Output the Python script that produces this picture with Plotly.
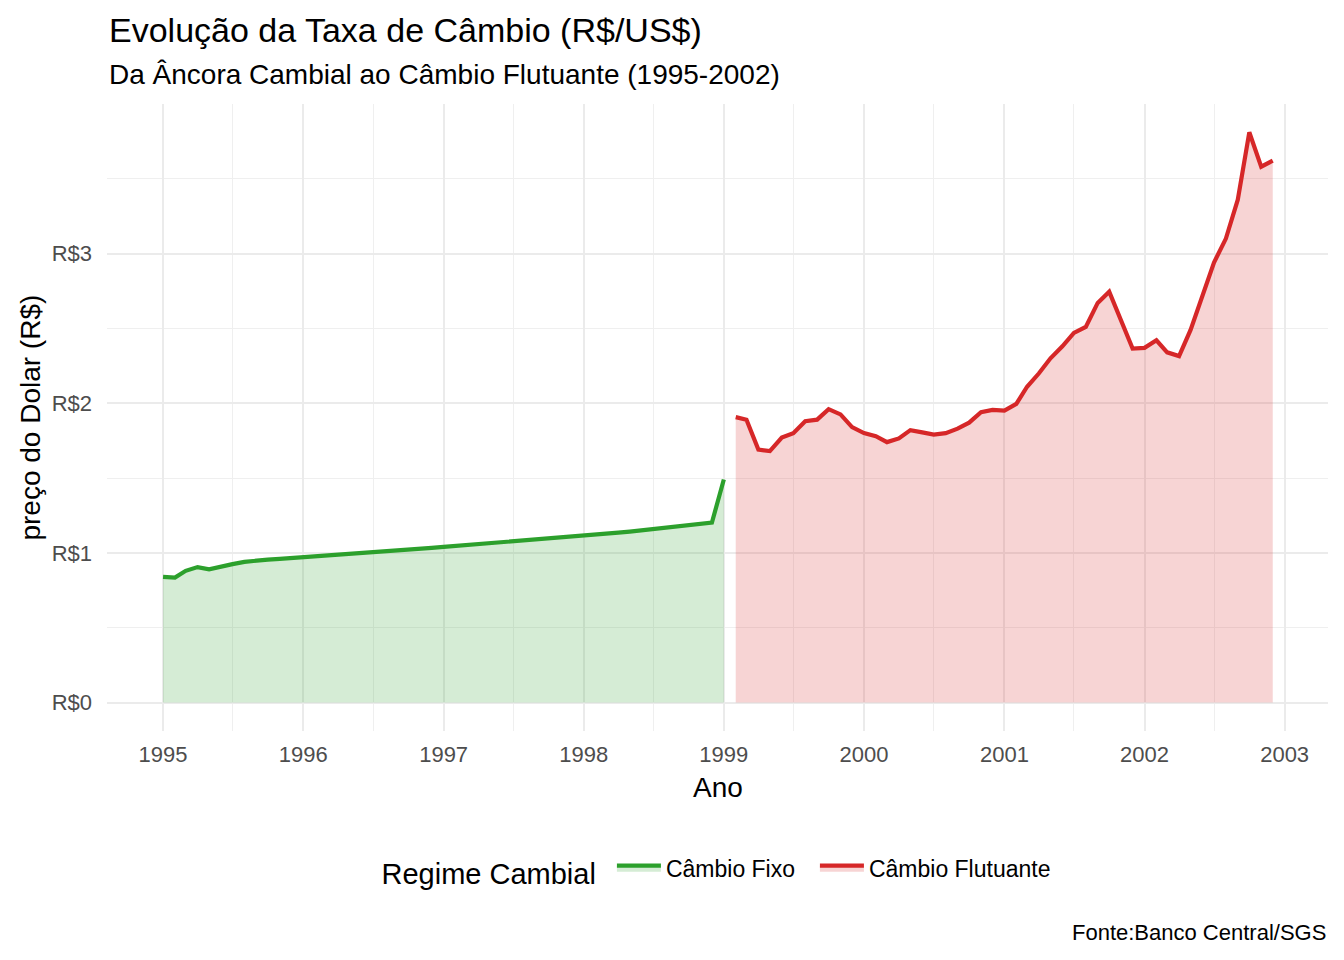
import pandas as pd
import plotly.graph_objects as go

# ---- data ----
fixo_datas = pd.date_range("1995-01-01", "1999-01-01", freq="MS")
fixo_valores = [
    0.840, 0.835, 0.880, 0.905, 0.890, 0.910, 0.925, 0.940, 0.950, 0.955, 0.960, 0.965,  # 1995
    0.972, 0.978, 0.984, 0.988, 0.992, 0.998, 1.004, 1.010, 1.016, 1.022, 1.027, 1.033,  # 1996
    1.040, 1.046, 1.052, 1.058, 1.064, 1.070, 1.076, 1.082, 1.088, 1.094, 1.100, 1.106,  # 1997
    1.114, 1.121, 1.128, 1.135, 1.142, 1.150, 1.158, 1.166, 1.174, 1.182, 1.190, 1.203,  # 1998
    1.490,  # 1999-01
]

flut_datas = pd.date_range("1999-02-01", "2002-12-01", freq="MS")
flut_valores = [
    1.907, 1.890, 1.690, 1.680, 1.770, 1.800, 1.880, 1.890, 1.960, 1.925, 1.840,  # 1999
    1.800, 1.780, 1.740, 1.765, 1.820, 1.805, 1.790, 1.800, 1.830, 1.870, 1.940, 1.955,  # 2000
    1.950, 1.995, 2.110, 2.200, 2.300, 2.380, 2.470, 2.510, 2.670, 2.745, 2.555, 2.365,  # 2001
    2.370, 2.420, 2.340, 2.315, 2.490, 2.710, 2.940, 3.100, 3.360, 3.810, 3.580, 3.620,  # 2002
]

y_ticks = [0, 1, 2, 3]
y_tick_labels = ["R$0", "R$1", "R$2", "R$3"]

titulo = "Evolução da Taxa de Câmbio (R$/US$)"
subtitulo = "Da Âncora Cambial ao Câmbio Flutuante (1995-2002)"
fonte = "Fonte:Banco Central/SGS"

VERDE = "#2CA02C"
VERMELHO = "#D62728"

fig = go.Figure()
fig.add_trace(go.Scatter(
    x=fixo_datas, y=fixo_valores, name="Câmbio Fixo", mode="lines",
    line=dict(color=VERDE, width=4.2), fill="tozeroy",
    fillcolor="rgba(44,160,44,0.2)", legendwidth=144,
))
fig.add_trace(go.Scatter(
    x=flut_datas, y=flut_valores, name="Câmbio Flutuante", mode="lines",
    line=dict(color=VERMELHO, width=4.2), fill="tozeroy",
    fillcolor="rgba(214,39,40,0.2)",
))

FONT = "Liberation Sans, Arial, sans-serif"
grid_major = "#EBEBEB"
grid_minor = "#EFEFEF"

fig.update_layout(
    width=1336, height=952,
    margin=dict(l=99, r=16, t=96, b=229),
    plot_bgcolor="white", paper_bgcolor="white",
    font=dict(family=FONT, color="black"),
    showlegend=True,
    legend=dict(
        orientation="h", x=0.5, xanchor="center", y=-0.222, yanchor="middle",
        title=dict(text="Regime Cambial ", font=dict(size=29, color="black"), side="left"),
        font=dict(size=23, color="black"),
        itemwidth=44,
    ),
    xaxis=dict(
        type="date",
        range=["1994-08-08", "2003-04-24"],
        dtick="M12", tick0="1995-01-01", tickformat="%Y",
        showgrid=True, gridcolor=grid_major, gridwidth=2,
        minor=dict(dtick="M6", tick0="1995-07-01", showgrid=True, gridcolor=grid_minor, gridwidth=1),
        zeroline=False, showline=False, ticks="",
        tickfont=dict(size=22, color="#4D4D4D"),
        ticklabelstandoff=8,
    ),
    yaxis=dict(
        range=[-0.19, 3.999],
        tickvals=y_ticks, ticktext=y_tick_labels,
        showgrid=True, gridcolor=grid_major, gridwidth=2,
        minor=dict(dtick=0.5, tick0=0, showgrid=True, gridcolor=grid_minor, gridwidth=1),
        zeroline=False, showline=False, ticks="",
        tickfont=dict(size=22, color="#4D4D4D"),
        ticklabelstandoff=14,
    ),
    annotations=[
        dict(text=titulo, xref="paper", yref="paper", x=0, y=1.118,
             xanchor="left", yanchor="middle", showarrow=False,
             font=dict(size=34, color="black")),
        dict(text=subtitulo, xref="paper", yref="paper", x=0, y=1.0463,
             xanchor="left", yanchor="middle", showarrow=False,
             font=dict(size=28, color="black")),
        dict(text="Ano", xref="paper", yref="paper", x=0.5, y=-0.0909,
             xanchor="center", yanchor="middle", showarrow=False,
             font=dict(size=28, color="black")),
        dict(text="preço do Dolar (R$)", xref="paper", yref="paper", x=-0.063, y=0.5,
             xanchor="center", yanchor="middle", showarrow=False, textangle=-90,
             font=dict(size=28, color="black")),
        dict(text=fonte, xref="paper", yref="paper", x=1, y=-0.322,
             xanchor="right", yanchor="middle", showarrow=False,
             font=dict(size=22, color="black")),
    ],
)

fig.write_html("out.html")
